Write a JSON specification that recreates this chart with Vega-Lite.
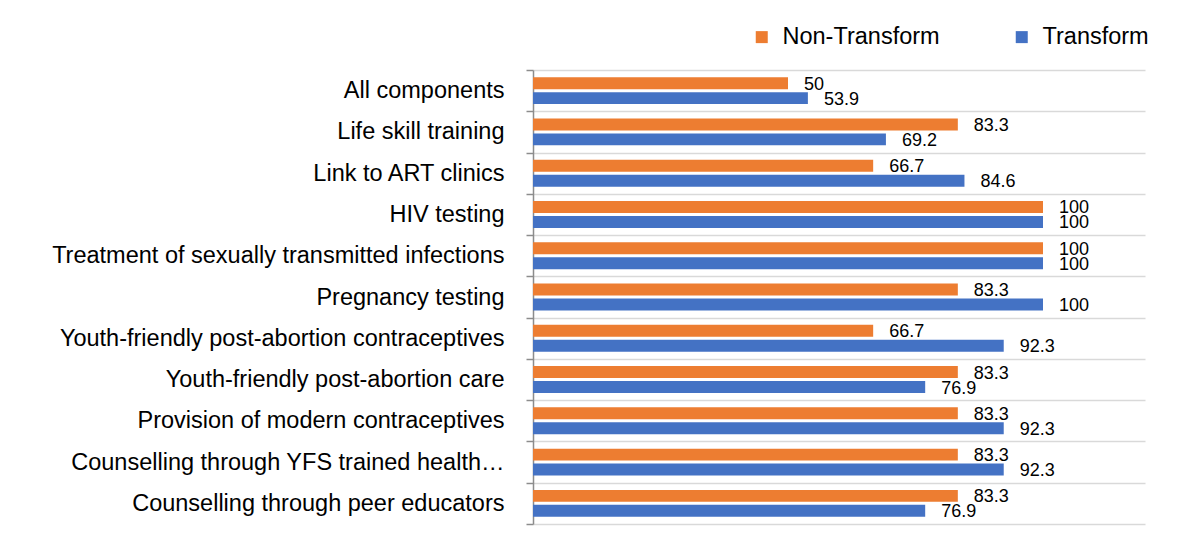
{
  "$schema": "https://vega.github.io/schema/vega-lite/v6.json",
  "width": 612,
  "height": 454,
  "autosize": {"type": "none"},
  "padding": {"left": 533, "top": 70, "right": 55, "bottom": 19},
  "background": "white",
  "config": {"view": {"stroke": null}, "font": "Liberation Sans"},
  "data": {
    "values": [
      {"component": "All components", "group": "Non-Transform", "value": 50},
      {"component": "All components", "group": "Transform", "value": 53.9},
      {"component": "Life skill training", "group": "Non-Transform", "value": 83.3},
      {"component": "Life skill training", "group": "Transform", "value": 69.2},
      {"component": "Link to ART clinics", "group": "Non-Transform", "value": 66.7},
      {"component": "Link to ART clinics", "group": "Transform", "value": 84.6},
      {"component": "HIV testing", "group": "Non-Transform", "value": 100},
      {"component": "HIV testing", "group": "Transform", "value": 100},
      {"component": "Treatment of sexually transmitted infections", "group": "Non-Transform", "value": 100},
      {"component": "Treatment of sexually transmitted infections", "group": "Transform", "value": 100},
      {"component": "Pregnancy testing", "group": "Non-Transform", "value": 83.3},
      {"component": "Pregnancy testing", "group": "Transform", "value": 100},
      {"component": "Youth-friendly post-abortion contraceptives", "group": "Non-Transform", "value": 66.7},
      {"component": "Youth-friendly post-abortion contraceptives", "group": "Transform", "value": 92.3},
      {"component": "Youth-friendly post-abortion care", "group": "Non-Transform", "value": 83.3},
      {"component": "Youth-friendly post-abortion care", "group": "Transform", "value": 76.9},
      {"component": "Provision of modern contraceptives", "group": "Non-Transform", "value": 83.3},
      {"component": "Provision of modern contraceptives", "group": "Transform", "value": 92.3},
      {"component": "Counselling through YFS trained health…", "group": "Non-Transform", "value": 83.3},
      {"component": "Counselling through YFS trained health…", "group": "Transform", "value": 92.3},
      {"component": "Counselling through peer educators", "group": "Non-Transform", "value": 83.3},
      {"component": "Counselling through peer educators", "group": "Transform", "value": 76.9}
    ]
  },
  "encoding": {
    "y": {
      "field": "component",
      "type": "nominal",
      "sort": null,
      "scale": {"paddingInner": 0, "paddingOuter": 0},
      "axis": {
        "title": null,
        "labelFont": "Liberation Sans",
        "labelFontSize": 23.5,
        "labelColor": "#000000",
        "labelPadding": 22,
        "labelLimit": 600,
        "tickSize": 7,
        "tickColor": "#8c8c8c",
        "tickWidth": 1.5,
        "domainColor": "#8c8c8c",
        "domainWidth": 1.5,
        "tickBand": "extent",
        "grid": true,
        "gridColor": "#d9d9d9",
        "gridWidth": 1.5
      }
    },
    "yOffset": {
      "field": "group",
      "type": "nominal",
      "sort": ["Non-Transform", "Transform"],
      "scale": {"paddingInner": 0.2, "paddingOuter": 0.48}
    },
    "x": {
      "field": "value",
      "type": "quantitative",
      "scale": {"domain": [0, 120], "nice": false},
      "axis": null
    }
  },
  "layer": [
    {
      "mark": {"type": "bar"},
      "encoding": {
        "color": {
          "field": "group",
          "type": "nominal",
          "scale": {"domain": ["Non-Transform", "Transform"], "range": ["#ED7D31", "#4472C4"]},
          "legend": {
            "title": null,
            "orient": "none",
            "legendX": 217,
            "legendY": -45,
            "direction": "horizontal",
            "symbolType": "square",
            "symbolSize": 144,
            "symbolStrokeWidth": 0,
            "labelFont": "Liberation Sans",
            "labelFontSize": 23.5,
            "labelColor": "#000000",
            "labelOffset": 9,
            "columnPadding": 70,
            "labelLimit": 300
          }
        }
      }
    },
    {
      "mark": {
        "type": "text",
        "align": "left",
        "baseline": "middle",
        "dx": 16,
        "dy": 1.5,
        "fontSize": 18,
        "font": "Liberation Sans",
        "color": "#000000"
      },
      "encoding": {
        "text": {"field": "value", "type": "nominal"}
      }
    }
  ]
}
